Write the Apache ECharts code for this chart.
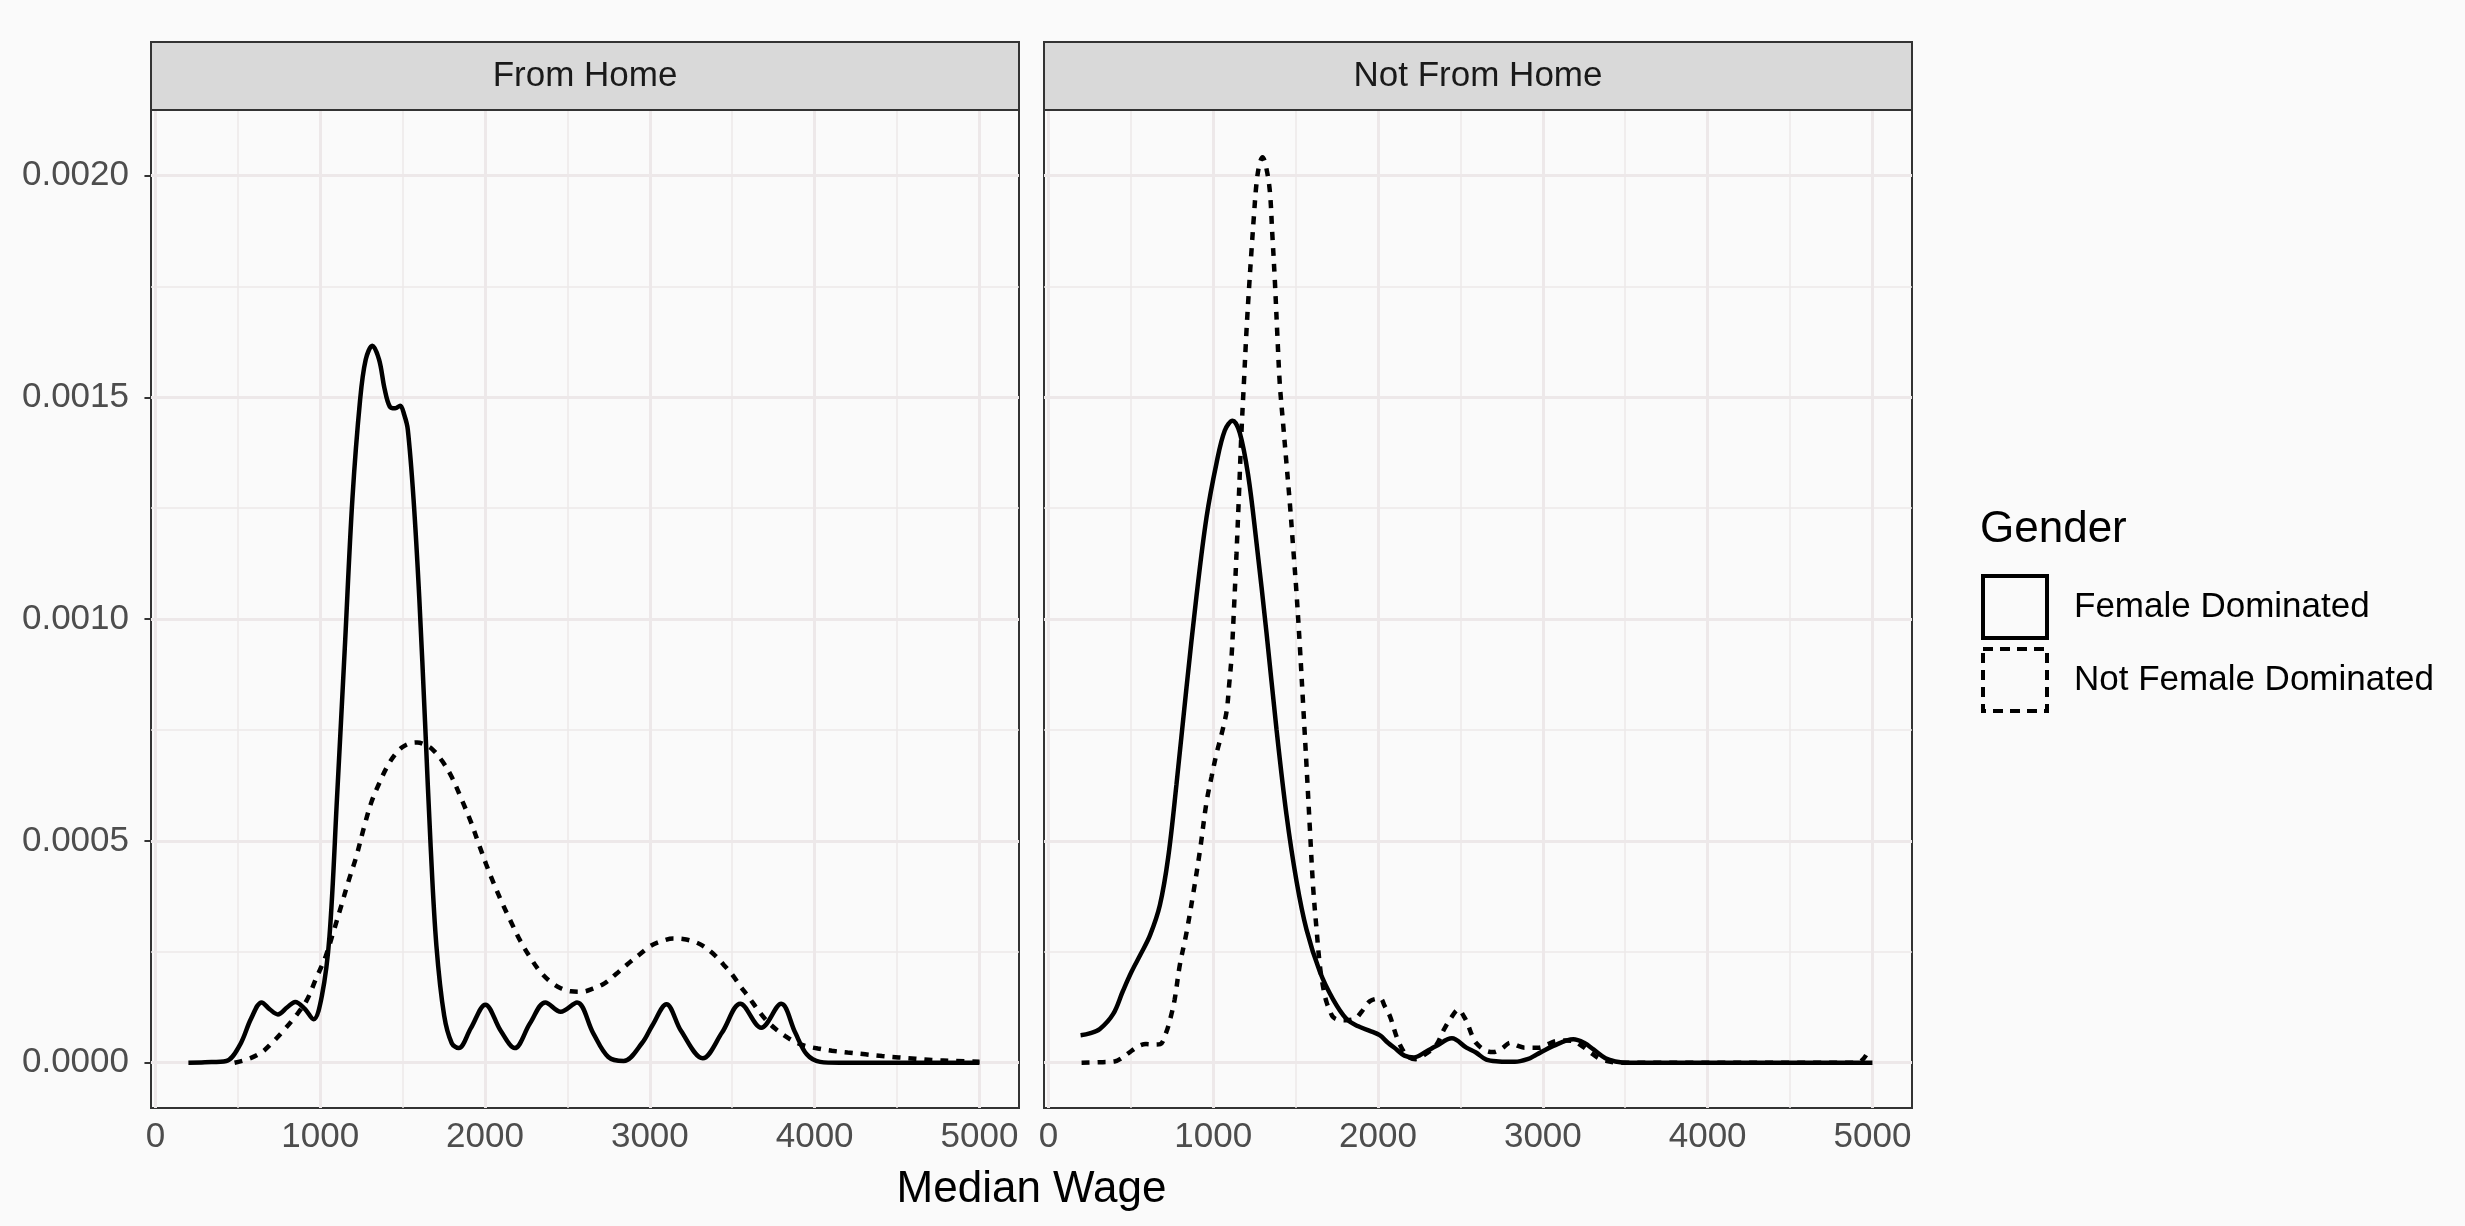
<!DOCTYPE html>
<html>
<head>
<meta charset="utf-8">
<title>Median Wage density by gender</title>
<script src="https://cdn.jsdelivr.net/npm/echarts@6/dist/echarts.min.js"></script>
<style>
  html, body { margin: 0; padding: 0; background: #FAFAFA; }
  #chart { width: 2465px; height: 1226px; }
</style>
</head>
<body>
<div id="chart"></div>
<script>
// Facets and groups
const panels = ['From Home', 'Not From Home'];
const groups = ['Female Dominated', 'Not Female Dominated'];

// Axis breaks
const xTicks = [0, 1000, 2000, 3000, 4000, 5000];
const xMinor = [500, 1500, 2500, 3500, 4500];
const yTicks = [0, 0.0005, 0.001, 0.0015, 0.002];
const yMinor = [0.00025, 0.00075, 0.00125, 0.00175];

// Density estimates: [median wage, density]
const fromHomeFemale = [
  [200, 0], [300, 0.000001], [430, 0.000004], [511, 0.000039], [581, 0.0001], [644, 0.000136],
  [695, 0.00012], [743, 0.000109], [800, 0.000125], [848, 0.000137], [905, 0.000122], [959, 0.000098],
  [1010, 0.000151], [1056, 0.000285], [1102, 0.000599], [1149, 0.000935], [1195, 0.00127],
  [1242, 0.001495], [1276, 0.001585], [1316, 0.001616], [1357, 0.001585], [1390, 0.00152],
  [1422, 0.001479], [1455, 0.001475], [1485, 0.001481], [1510, 0.00146], [1531, 0.001428],
  [1566, 0.001271], [1601, 0.001047], [1636, 0.000767], [1670, 0.000487], [1705, 0.000263],
  [1752, 0.000106], [1798, 0.000044], [1840, 0.000033], [1914, 0.000078], [2002, 0.000131],
  [2095, 0.000072], [2180, 0.000033], [2273, 0.000089], [2366, 0.000136], [2459, 0.000115],
  [2558, 0.000136], [2656, 0.000067], [2748, 0.000013], [2841, 0.000004], [2954, 0.000045],
  [3015, 0.000084], [3101, 0.000132], [3189, 0.000072], [3321, 0.00001], [3438, 0.000068],
  [3549, 0.000133], [3676, 0.000079], [3797, 0.000133], [3882, 0.000068], [3952, 0.000019],
  [4033, 0.000002], [4150, 0], [5000, 0]
];
const fromHomeNotFemale = [
  [480, 0], [560, 0.000008], [639, 0.000022], [700, 0.000042], [778, 0.000073], [850, 0.000105],
  [917, 0.00014], [975, 0.00019], [1033, 0.00024], [1080, 0.000295], [1126, 0.000352],
  [1172, 0.00041], [1219, 0.000465], [1265, 0.00053], [1311, 0.000588], [1358, 0.00063],
  [1404, 0.000666], [1450, 0.000693], [1497, 0.000711], [1545, 0.00072], [1589, 0.000722],
  [1635, 0.000717], [1682, 0.000706], [1740, 0.00068], [1798, 0.000644], [1856, 0.000595],
  [1914, 0.000543], [1960, 0.000495], [2006, 0.000448], [2052, 0.000405], [2099, 0.000364],
  [2157, 0.000318], [2215, 0.000274], [2273, 0.000238], [2331, 0.000207], [2395, 0.000183],
  [2459, 0.000168], [2520, 0.000161], [2586, 0.00016], [2655, 0.000167], [2725, 0.000179],
  [2795, 0.0002], [2864, 0.000222], [2934, 0.000243], [3003, 0.000263], [3072, 0.000274],
  [3142, 0.00028], [3200, 0.000279], [3260, 0.000274], [3320, 0.000264], [3398, 0.000241],
  [3450, 0.00022], [3499, 0.000199], [3550, 0.000172], [3600, 0.000148], [3650, 0.000122],
  [3701, 0.000098], [3760, 0.000077], [3822, 0.00006], [3880, 0.000047], [3943, 0.000038],
  [4020, 0.000032], [4105, 0.000027], [4200, 0.000023], [4307, 0.000019], [4409, 0.000015],
  [4509, 0.000012], [4611, 0.000009], [4711, 0.000006], [4850, 0.000004], [5000, 0.000002]
];
const notFromHomeFemale = [
  [195, 0.000062], [250, 0.000066], [312, 0.000076], [393, 0.00011], [450, 0.00016], [504, 0.000205],
  [560, 0.000245], [616, 0.000287], [676, 0.000355], [727, 0.000464], [777, 0.000628],
  [838, 0.000847], [898, 0.001051], [959, 0.001229], [1020, 0.001352], [1070, 0.001425],
  [1117, 0.001447], [1161, 0.00142], [1212, 0.001324], [1262, 0.001174], [1323, 0.00097],
  [1384, 0.000751], [1444, 0.00056], [1505, 0.00041], [1566, 0.0003], [1647, 0.000205],
  [1727, 0.000143], [1808, 0.000099], [1880, 0.000082], [1950, 0.000072], [2010, 0.000062],
  [2060, 0.000045], [2112, 0.00003], [2160, 0.000016], [2218, 0.000012], [2290, 0.000025],
  [2350, 0.000037], [2448, 0.000055], [2536, 0.000034], [2594, 0.000023], [2657, 0.000007],
  [2733, 0.000003], [2830, 0.000002], [2907, 0.000008], [2960, 0.000018], [3064, 0.000038],
  [3185, 0.000053], [3250, 0.000045], [3307, 0.00003], [3380, 0.00001], [3440, 0.000003],
  [3520, 0], [5000, 0]
];
const notFromHomeNotFemale = [
  [201, 0], [300, 0.000001], [401, 0.000003], [450, 0.000012], [505, 0.000027], [550, 0.000038],
  [592, 0.000042], [640, 0.000041], [679, 0.000042], [714, 0.000068], [740, 0.0001], [766, 0.000143],
  [797, 0.00022], [836, 0.00029], [878, 0.00038], [920, 0.00048], [959, 0.000587], [990, 0.000645],
  [1020, 0.000697], [1050, 0.00074], [1081, 0.000792], [1096, 0.00085], [1111, 0.000915],
  [1126, 0.001025], [1141, 0.001147], [1156, 0.00128], [1171, 0.00142], [1187, 0.00154],
  [1202, 0.001652], [1217, 0.001745], [1232, 0.00183], [1247, 0.00191], [1262, 0.00198],
  [1280, 0.002025], [1299, 0.002041], [1320, 0.00202], [1343, 0.001966], [1358, 0.00187],
  [1374, 0.001761], [1389, 0.00164], [1404, 0.001529], [1424, 0.00144], [1444, 0.001352],
  [1465, 0.00126], [1485, 0.001161], [1505, 0.00106], [1525, 0.000942], [1545, 0.00081],
  [1566, 0.000669], [1586, 0.00053], [1606, 0.000396], [1627, 0.0003], [1647, 0.000219],
  [1667, 0.00017], [1687, 0.000137], [1707, 0.000118], [1727, 0.000103], [1759, 0.000097],
  [1808, 0.000096], [1864, 0.0001], [1900, 0.000115], [1951, 0.000139], [2013, 0.000145],
  [2040, 0.000128], [2072, 0.000105], [2114, 0.000057], [2145, 0.000032], [2176, 0.000015],
  [2228, 0.000008], [2290, 0.00002], [2350, 0.000038], [2400, 0.000075], [2437, 0.000098],
  [2489, 0.00012], [2520, 0.000105], [2541, 0.00009], [2570, 0.000062], [2594, 0.000045],
  [2650, 0.000028], [2698, 0.000024], [2750, 0.000032], [2803, 0.000045], [2850, 0.000038],
  [2890, 0.000034], [2977, 0.000034], [3030, 0.000042], [3082, 0.000049], [3140, 0.00005],
  [3185, 0.000049], [3240, 0.000037], [3290, 0.000023], [3340, 0.00001], [3377, 0.000005],
  [3464, 0], [4900, 0], [4935, 0.000005], [4965, 0.000019]
];

const seriesData = [
  [fromHomeFemale, fromHomeNotFemale],
  [notFromHomeFemale, notFromHomeNotFemale]
];

// Layout
const FONT = '"Liberation Sans", Arial, Helvetica, sans-serif';
const PANEL_LEFT = [151, 1044];
const PANEL_TOP = 110;
const PANEL_W = 868;
const PANEL_H = 998;
const STRIP_TOP = 42;
const X_RANGE = [-27, 5240];
const Y_RANGE = [-0.000102, 0.0021475];
const GRID_COLOR = '#EDE8E9';
const LINE_TYPES = ['solid', [8, 8]];

const chart = echarts.init(document.getElementById('chart'), null, { renderer: 'canvas' });

const grids = panels.map((p, i) => ({
  left: PANEL_LEFT[i], top: PANEL_TOP, width: PANEL_W, height: PANEL_H,
  show: true, backgroundColor: '#FAFAFA', borderColor: '#333333', borderWidth: 2,
  containLabel: false
}));

const xAxes = panels.map((p, i) => ({
  type: 'value', gridIndex: i, min: X_RANGE[0], max: X_RANGE[1],
  axisLine: { show: false },
  axisTick: { show: true, customValues: xTicks, length: 11, lineStyle: { color: '#333333', width: 2 } },
  axisLabel: {
    customValues: xTicks, fontSize: 35, fontFamily: FONT, color: '#4D4D4D', margin: 12,
    formatter: v => String(v)
  },
  splitLine: { show: false }
}));

const yAxes = panels.map((p, i) => ({
  type: 'value', gridIndex: i, min: Y_RANGE[0], max: Y_RANGE[1],
  axisLine: { show: false },
  axisTick: { show: i === 0, customValues: yTicks, length: 11, lineStyle: { color: '#333333', width: 2 } },
  axisLabel: {
    show: i === 0, customValues: yTicks, fontSize: 35, fontFamily: FONT, color: '#4D4D4D', margin: 22,
    formatter: v => Number(v).toFixed(4)
  },
  splitLine: { show: false }
}));

// Panel grid lines, drawn beneath the curves
function gridLines() {
  const major = 3, minor = 1.5;
  return [
    ...xMinor.map(v => ({ xAxis: v, lineStyle: { width: minor } })),
    ...yMinor.map(v => ({ yAxis: v, lineStyle: { width: minor } })),
    ...xTicks.map(v => ({ xAxis: v, lineStyle: { width: major } })),
    ...yTicks.map(v => ({ yAxis: v, lineStyle: { width: major } }))
  ];
}

const series = [];
panels.forEach((p, i) => {
  groups.forEach((g, j) => {
    const s = {
      name: g, type: 'line', xAxisIndex: i, yAxisIndex: i,
      data: seriesData[i][j],
      showSymbol: false, symbol: 'none', smooth: 0.35,
      color: '#000000',
      lineStyle: { color: '#000000', width: 4.5, type: LINE_TYPES[j], cap: 'butt' },
      z: 3, silent: true, animation: false
    };
    if (j === 0) {
      s.markLine = {
        silent: true, z: 1, symbol: ['none', 'none'], animation: false,
        precision: 10,
        label: { show: false },
        lineStyle: { color: GRID_COLOR, type: 'solid' },
        emphasis: { disabled: true },
        data: gridLines()
      };
    }
    series.push(s);
  });
});

// Facet strips
const graphics = [];
panels.forEach((p, i) => {
  graphics.push({
    type: 'rect', z: 10,
    shape: { x: PANEL_LEFT[i], y: STRIP_TOP, width: PANEL_W, height: PANEL_TOP - STRIP_TOP },
    style: { fill: '#D9D9D9', stroke: '#333333', lineWidth: 2 }
  });
  graphics.push({
    type: 'text', z: 11,
    x: PANEL_LEFT[i] + PANEL_W / 2, y: (STRIP_TOP + PANEL_TOP) / 2,
    style: { text: p, fill: '#1A1A1A', font: '35px ' + FONT, align: 'center', verticalAlign: 'middle' }
  });
});
// Axis title shared by both panels
graphics.push({
  type: 'text', z: 11,
  x: (PANEL_LEFT[0] + PANEL_LEFT[1] + PANEL_W) / 2, y: 1190,
  style: { text: 'Median Wage', fill: '#000000', font: '44px ' + FONT, align: 'center', verticalAlign: 'middle' }
});
// Legend title
graphics.push({
  type: 'text', z: 11, x: 1980, y: 530,
  style: { text: 'Gender', fill: '#000000', font: '44px ' + FONT, align: 'left', verticalAlign: 'middle' }
});

const option = {
  animation: false,
  backgroundColor: '#FAFAFA',
  grid: grids,
  xAxis: xAxes,
  yAxis: yAxes,
  series: series,
  legend: {
    orient: 'vertical', left: 1981, top: 574, padding: 0,
    itemWidth: 64, itemHeight: 62, itemGap: 7,
    selectedMode: false,
    textStyle: { fontSize: 35, fontFamily: FONT, color: '#000000', padding: [0, 0, 0, 22] },
    data: groups.map((g, j) => ({
      name: g, icon: 'rect',
      itemStyle: { color: 'rgba(0,0,0,0)', borderColor: '#000000', borderWidth: 4, borderType: j === 0 ? 'solid' : [10, 7] }
    }))
  },
  graphic: graphics
};

chart.setOption(option);
</script>
</body>
</html>
